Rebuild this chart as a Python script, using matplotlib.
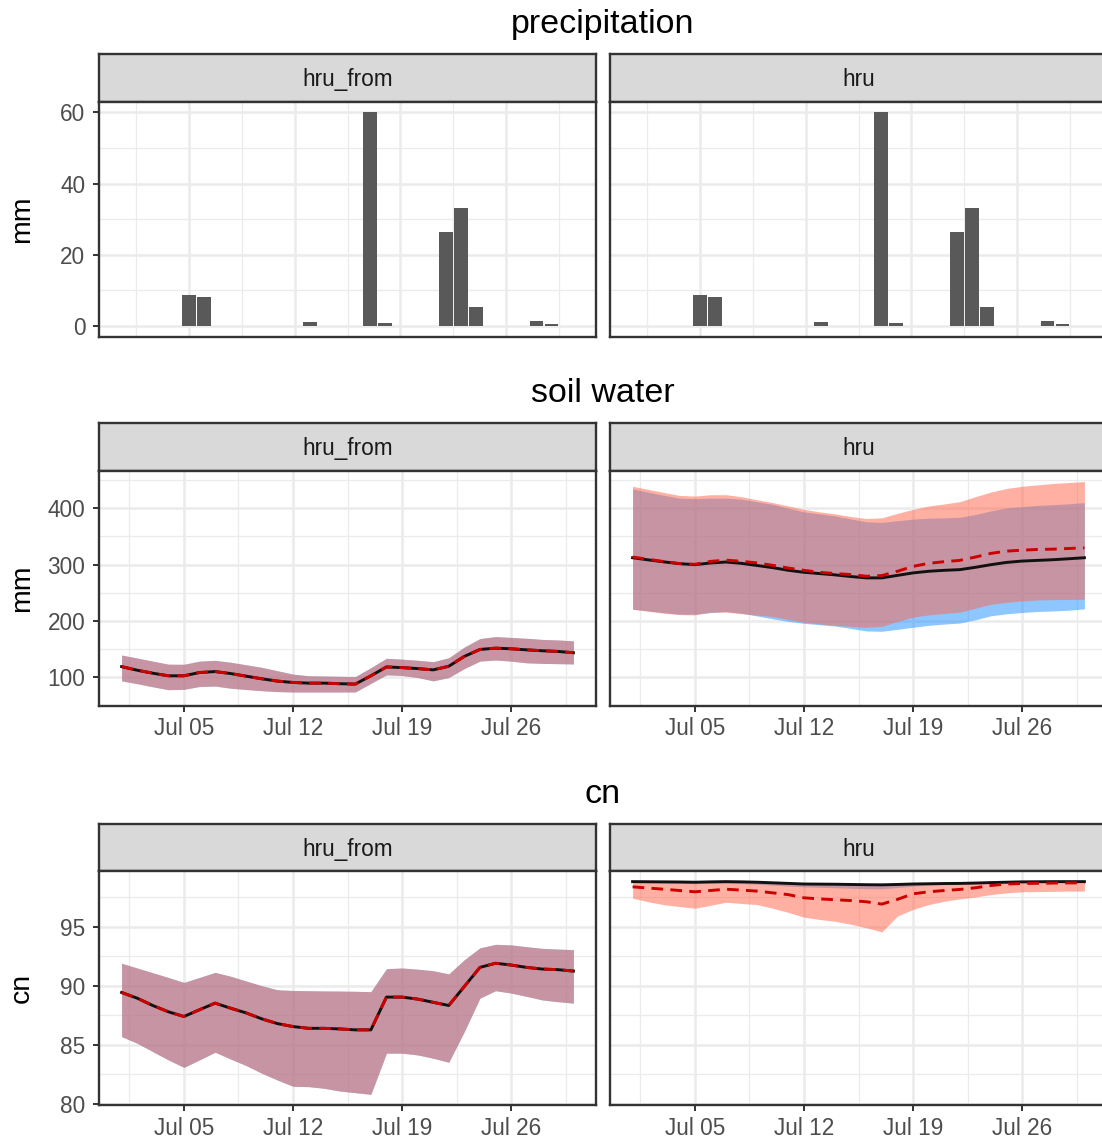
import numpy as np
import matplotlib
matplotlib.use("Agg")
import matplotlib.pyplot as plt
import matplotlib.dates as mdates

plt.rcParams["font.family"] = ["Liberation Sans", "DejaVu Sans"]

# ---- data (Jul 01 .. Jul 30) ----
dates = np.arange("2020-07-01", "2020-07-31", dtype="datetime64[D]")

precip = [0, 0, 0, 0, 8.7, 8.1, 0, 0, 0, 0, 0, 0, 1.1, 0, 0, 0, 60.0, 0.8, 0, 0,
          0, 26.3, 33.1, 5.3, 0, 0, 0, 1.5, 0.7, 0]

# soil water, hru_from (both runs identical)
sw_from_mean = [119.3, 112.9, 107.6, 103.0, 103.0, 108.8, 110.5, 107.0, 102.3, 97.7,
                93.6, 91.2, 90.0, 90.0, 89.0, 88.3, 103.0, 118.7, 117.5, 115.8,
                113.5, 119.9, 137.4, 149.7, 152.0, 150.9, 149.0, 147.4, 146.2, 143.9]
sw_from_upper = [139.8, 134.5, 129.0, 123.6, 123.4, 129.0, 130.4, 127.0, 122.5, 118.0,
                 112.0, 106.0, 103.0, 102.5, 102.0, 101.5, 117.5, 134.0, 132.5, 130.5,
                 128.0, 135.0, 154.0, 169.0, 172.5, 171.0, 169.5, 167.5, 166.5, 165.0]
sw_from_lower = [94.0, 89.0, 83.5, 78.4, 79.0, 84.0, 84.8, 81.0, 78.7, 76.6,
                 75.0, 74.3, 74.3, 74.3, 74.3, 74.3, 89.5, 104.7, 103.5, 100.0,
                 94.0, 100.0, 115.8, 129.0, 131.0, 129.0, 126.0, 125.0, 124.5, 124.0]

# soil water, hru: run A (black / blue) and run B (red dashed / red)
sw_hru_a = [312.3, 308.5, 305.0, 301.8, 300.0, 303.0, 304.7, 302.3, 298.5, 294.7,
            290.0, 286.5, 284.2, 281.9, 279.0, 276.6, 276.6, 281.0, 285.4, 288.3,
            290.0, 291.2, 295.3, 300.0, 304.0, 306.4, 307.6, 308.8, 310.5, 312.3]
sw_hru_a_upper = [434.5, 428.5, 423.0, 418.0, 417.0, 418.0, 418.0, 416.0, 411.5, 407.0,
                  400.0, 393.6, 390.0, 386.5, 381.0, 376.0, 374.9, 378.0, 380.7, 382.5,
                  383.0, 384.0, 388.9, 395.3, 400.6, 402.9, 405.0, 406.4, 408.0, 410.0]
sw_hru_a_lower = [221.0, 218.0, 215.0, 212.3, 212.3, 215.0, 217.0, 214.0, 209.0, 204.0,
                  199.4, 196.0, 193.6, 191.2, 187.0, 182.5, 181.9, 185.4, 189.0, 192.4,
                  194.7, 196.5, 202.3, 209.4, 212.9, 215.2, 217.0, 218.0, 219.3, 221.6]
sw_hru_b = [313.5, 309.5, 305.5, 302.0, 300.6, 305.8, 308.0, 306.0, 303.0, 298.8,
            294.0, 290.0, 286.5, 284.2, 282.5, 279.5, 280.7, 288.3, 297.0, 302.3,
            305.3, 307.6, 313.5, 320.0, 324.0, 325.7, 327.0, 327.5, 328.7, 329.8]
sw_hru_b_upper = [439.0, 433.5, 428.0, 422.8, 421.6, 424.0, 424.0, 420.5, 415.0, 410.0,
                  404.0, 398.0, 393.6, 390.0, 385.4, 381.9, 383.0, 391.0, 398.0, 404.0,
                  407.6, 411.7, 420.5, 428.7, 435.0, 439.0, 441.5, 443.9, 445.6, 447.4]
sw_hru_b_lower = [221.0, 217.5, 214.0, 211.5, 211.0, 215.8, 215.8, 213.0, 210.5, 208.0,
                  203.0, 198.0, 195.0, 192.4, 190.5, 189.0, 190.6, 199.4, 207.0, 211.0,
                  213.5, 215.8, 222.8, 229.8, 233.3, 235.7, 237.5, 238.0, 238.3, 238.6]

# curve number, hru_from
cn_from_mean = [89.43, 88.95, 88.33, 87.80, 87.40, 87.97, 88.53, 88.10, 87.70, 87.20,
                86.80, 86.55, 86.40, 86.40, 86.35, 86.27, 86.27, 89.04, 89.04, 88.87,
                88.60, 88.33, 89.94, 91.55, 91.90, 91.75, 91.55, 91.41, 91.36, 91.24]
cn_from_upper = [91.90, 91.50, 91.10, 90.70, 90.28, 90.70, 91.13, 90.80, 90.40, 90.00,
                 89.66, 89.60, 89.58, 89.56, 89.55, 89.53, 89.50, 91.44, 91.50, 91.40,
                 91.27, 91.00, 92.20, 93.20, 93.50, 93.45, 93.30, 93.16, 93.10, 93.05]
cn_from_lower = [85.70, 85.14, 84.43, 83.73, 83.10, 83.73, 84.38, 83.80, 83.25, 82.60,
                 82.03, 81.50, 81.47, 81.33, 81.10, 80.96, 80.82, 84.30, 84.30, 84.15,
                 83.87, 83.53, 86.13, 88.95, 89.58, 89.38, 89.10, 88.80, 88.65, 88.53]

# curve number, hru
cn_hru_a = [98.80, 98.79, 98.78, 98.77, 98.75, 98.78, 98.80, 98.78, 98.75, 98.70,
            98.65, 98.60, 98.59, 98.58, 98.56, 98.54, 98.53, 98.56, 98.60, 98.62,
            98.64, 98.65, 98.68, 98.72, 98.75, 98.78, 98.79, 98.80, 98.80, 98.80]
cn_hru_a_upper = [98.84, 98.83, 98.82, 98.81, 98.79, 98.82, 98.84, 98.82, 98.79, 98.74,
                  98.69, 98.64, 98.63, 98.62, 98.60, 98.58, 98.57, 98.60, 98.64, 98.66,
                  98.68, 98.69, 98.72, 98.76, 98.79, 98.82, 98.83, 98.84, 98.84, 98.84]
cn_hru_a_lower = [98.72, 98.70, 98.68, 98.66, 98.63, 98.66, 98.68, 98.64, 98.58, 98.50,
                  98.42, 98.36, 98.32, 98.28, 98.24, 98.20, 98.19, 98.30, 98.42, 98.50,
                  98.55, 98.58, 98.62, 98.66, 98.70, 98.72, 98.74, 98.75, 98.76, 98.76]
cn_hru_b = [98.36, 98.26, 98.16, 98.05, 97.94, 98.05, 98.16, 98.08, 98.00, 97.85,
            97.70, 97.43, 97.34, 97.27, 97.20, 97.10, 96.90, 97.30, 97.77, 97.94,
            98.05, 98.14, 98.28, 98.47, 98.60, 98.64, 98.66, 98.68, 98.69, 98.70]
cn_hru_b_upper = [98.82, 98.81, 98.80, 98.79, 98.77, 98.80, 98.82, 98.80, 98.77, 98.72,
                  98.67, 98.62, 98.61, 98.60, 98.58, 98.56, 98.55, 98.58, 98.62, 98.64,
                  98.66, 98.67, 98.70, 98.74, 98.77, 98.80, 98.81, 98.82, 98.82, 98.82]
cn_hru_b_lower = [97.40, 97.10, 96.85, 96.70, 96.55, 96.80, 97.06, 96.95, 96.86, 96.55,
                  96.20, 95.80, 95.60, 95.45, 95.20, 94.90, 94.55, 95.90, 96.45, 96.86,
                  97.14, 97.34, 97.50, 97.70, 97.85, 97.94, 97.96, 97.98, 98.00, 98.00]

major_days = np.array(["2020-07-05", "2020-07-12", "2020-07-19", "2020-07-26"],
                      dtype="datetime64[D]")

# ---- style ----
W, H = 1102, 1142
BORDER = "#333333"
GRID = "#EBEBEB"
RED_FILL = "#FF6347"
BLUE_FILL = "#1E90FF"
RED_LINE = "#CD0000"
BAR = "#595959"
TXT = 16.3
LW = 2.1

fig = plt.figure(figsize=(W / 100, H / 100), dpi=100)


def px_axes(x0, y0, x1, y1):
    return fig.add_axes([x0 / W, 1 - y1 / H, (x1 - x0) / W, (y1 - y0) / H])


def expand(lo, hi, frac=0.05):
    d = (hi - lo) * frac
    return lo - d, hi + d


xnum = mdates.date2num(dates)
maj = mdates.date2num(major_days)
minor_x = np.concatenate([maj - 3.5, [maj[-1] + 3.5]])

cols = [(99, 596, "hru_from"), (610, 1107, "hru")]
rows = [
    ("precipitation", 33, 54, 101.7, 336.7, "mm"),
    ("soil water", 401.7, 423, 471, 705.7, "mm"),
    ("cn", 803, 824, 870.5, 1105, "cn"),
]


def style_panel(ax, left, show_x, yticks, yminor, ylim, xlim):
    ax.set_xlim(*xlim)
    ax.set_ylim(*ylim)
    ax.set_xticks(maj)
    ax.set_xticks(minor_x, minor=True)
    ax.xaxis.set_major_formatter(mdates.DateFormatter("%b %d"))
    ax.set_yticks(yticks)
    ax.set_yticks(yminor, minor=True)
    ax.grid(which="major", color=GRID, lw=1.8)
    ax.grid(which="minor", color=GRID, lw=0.9)
    ax.set_axisbelow(True)
    for s in ax.spines.values():
        s.set_color(BORDER)
        s.set_linewidth(1.7)
    ax.tick_params(which="minor", length=0)
    ax.tick_params(axis="y", which="major", length=4.3 if left else 0, width=1.4,
                   color=BORDER, labelsize=TXT, labelcolor="#4D4D4D", pad=5.5,
                   labelleft=left)
    ax.tick_params(axis="x", which="major", length=4.3 if show_x else 0, width=1.4,
                   color=BORDER, labelsize=TXT, labelcolor="#4D4D4D", pad=4,
                   labelbottom=show_x)


def strip(x0, x1, y0, y1, label):
    s = px_axes(x0, y0, x1, y1)
    s.set_facecolor("#D9D9D9")
    s.set_xticks([])
    s.set_yticks([])
    for sp in s.spines.values():
        sp.set_color(BORDER)
        sp.set_linewidth(1.7)
    s.text(0.5, 0.46, label, ha="center", va="center", fontsize=TXT,
           color="#1A1A1A", transform=s.transAxes)


def draw_runs(ax, sets):
    ax.fill_between(xnum, sets[0][1], sets[0][2], color=BLUE_FILL, alpha=0.5, lw=0)
    ax.fill_between(xnum, sets[1][1], sets[1][2], color=RED_FILL, alpha=0.5, lw=0)
    ax.plot(xnum, sets[0][0], color="#111111", lw=LW)
    ax.plot(xnum, sets[1][0], color=RED_LINE, lw=LW, ls=(0, (4.0, 2.5)))


bar_w = 0.9
xlim_bar = expand(xnum[0] - bar_w / 2, xnum[-1] + bar_w / 2)
xlim_line = expand(xnum[0], xnum[-1])

sw_all = sw_from_upper + sw_from_lower + sw_hru_a_upper + sw_hru_a_lower + sw_hru_b_upper + sw_hru_b_lower
cn_all = cn_from_upper + cn_from_lower + cn_hru_a_upper + cn_hru_a_lower + cn_hru_b_upper + cn_hru_b_lower

for ri, (title, base_y, sy0, sy1, py1, ylab) in enumerate(rows):
    fig.text(603 / W, 1 - base_y / H, title, ha="center", va="baseline",
             fontsize=24.5, color="black")
    fig.text(22 / W, 1 - (sy1 + py1) / 2 / H, ylab, ha="center", va="center",
             rotation=90, fontsize=20.5, color="black")
    for ci, (x0, x1, facet) in enumerate(cols):
        strip(x0, x1, sy0, sy1, facet)
        ax = px_axes(x0, sy1, x1, py1)
        if ri == 0:
            ax.bar(xnum, precip, width=bar_w, color=BAR, zorder=2)
            style_panel(ax, ci == 0, False, [0, 20, 40, 60], [10, 30, 50],
                        expand(0, max(precip)), xlim_bar)
        elif ri == 1:
            if ci == 0:
                sets = [(sw_from_mean, sw_from_lower, sw_from_upper),
                        (sw_from_mean, sw_from_lower, sw_from_upper)]
            else:
                sets = [(sw_hru_a, sw_hru_a_lower, sw_hru_a_upper),
                        (sw_hru_b, sw_hru_b_lower, sw_hru_b_upper)]
            draw_runs(ax, sets)
            style_panel(ax, ci == 0, True, [100, 200, 300, 400], [50, 150, 250, 350, 450],
                        expand(min(sw_all), max(sw_all)), xlim_line)
        else:
            if ci == 0:
                sets = [(cn_from_mean, cn_from_lower, cn_from_upper),
                        (cn_from_mean, cn_from_lower, cn_from_upper)]
            else:
                sets = [(cn_hru_a, cn_hru_a_lower, cn_hru_a_upper),
                        (cn_hru_b, cn_hru_b_lower, cn_hru_b_upper)]
            draw_runs(ax, sets)
            style_panel(ax, ci == 0, True, [80, 85, 90, 95], [82.5, 87.5, 92.5, 97.5],
                        expand(min(cn_all), max(cn_all)), xlim_line)

fig.savefig("out.png", dpi=100)
